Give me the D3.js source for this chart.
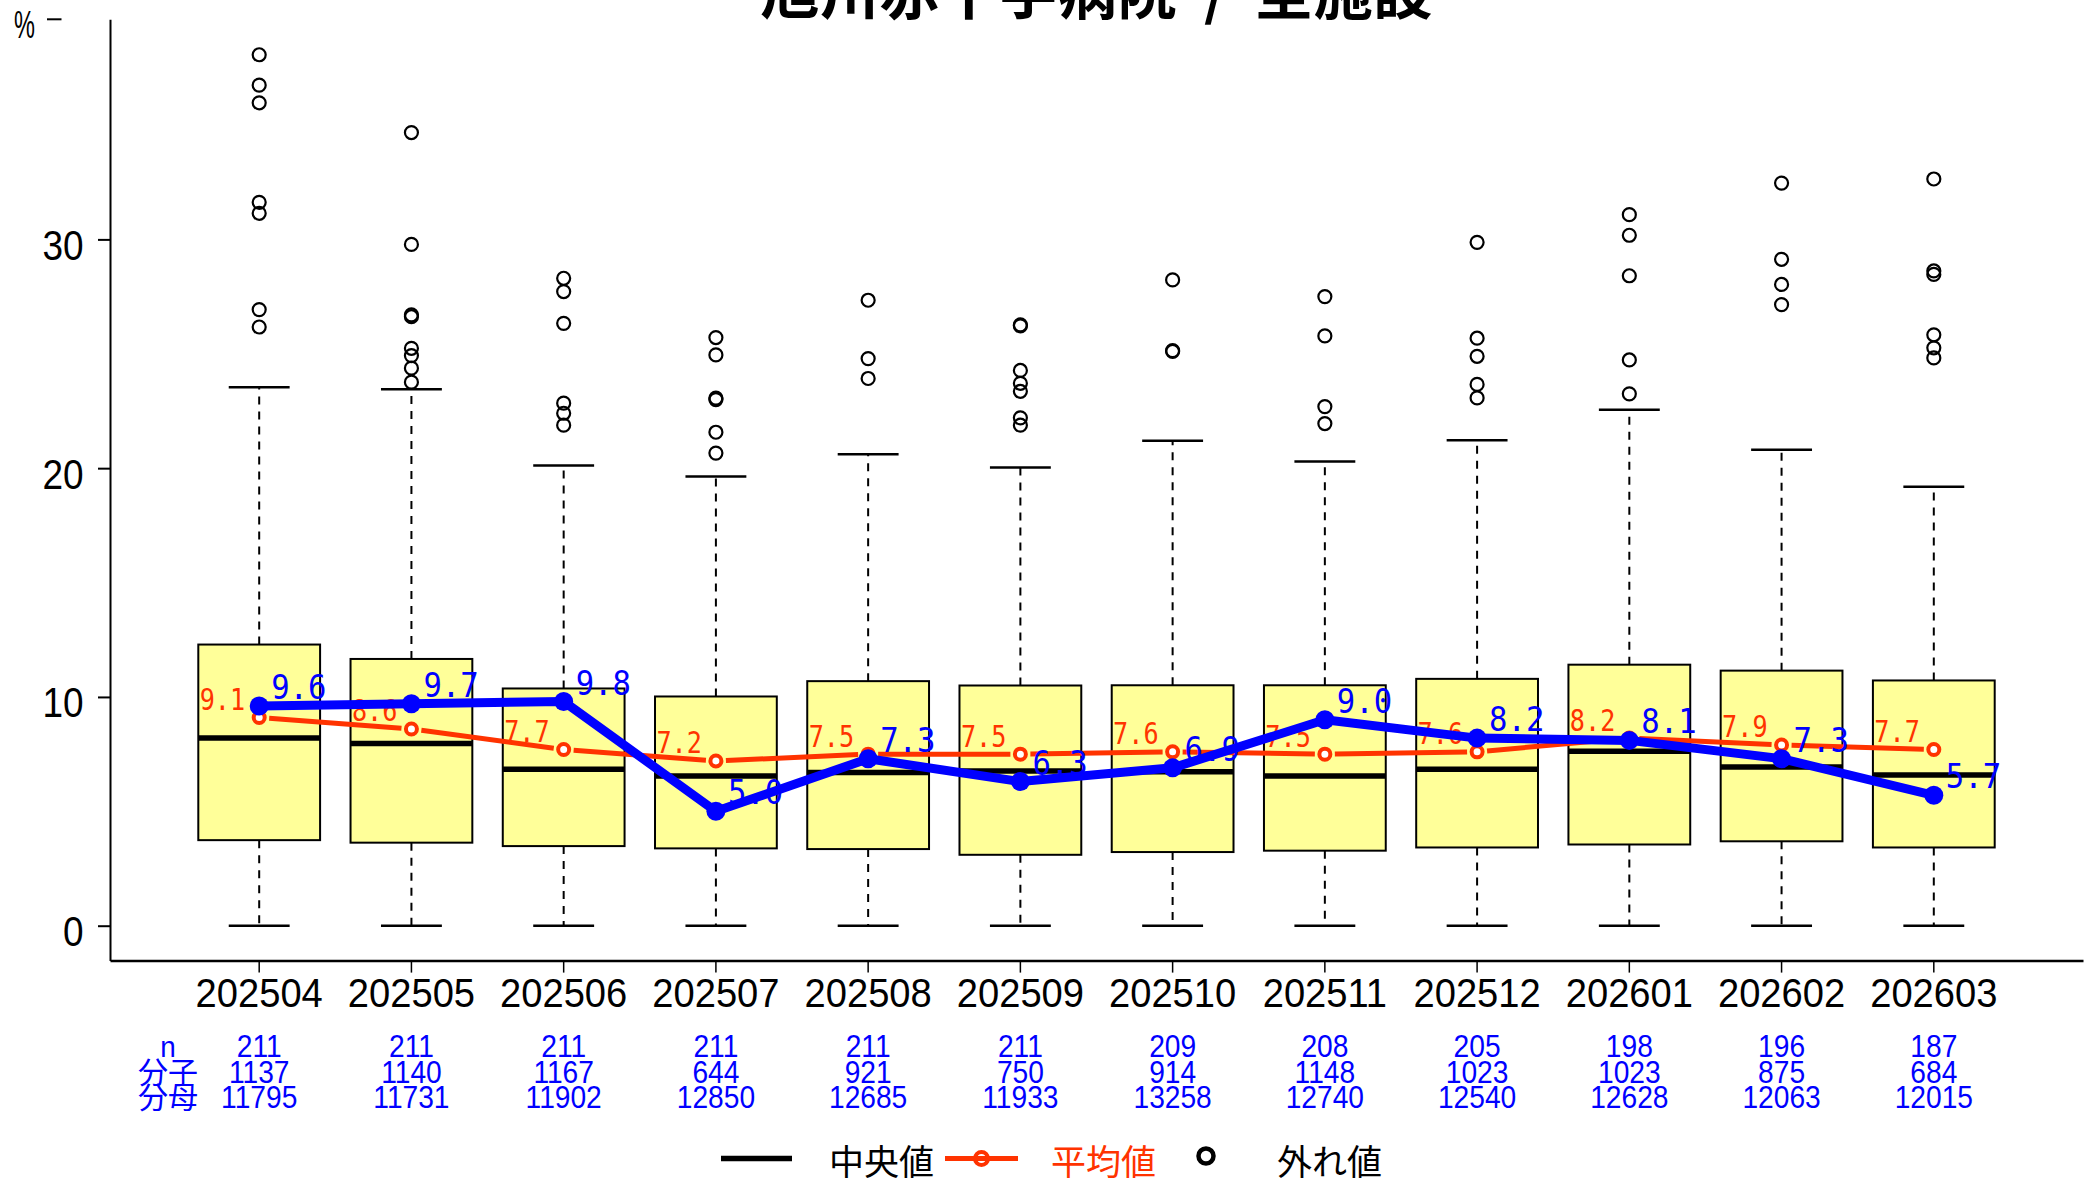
<!DOCTYPE html>
<html>
<head>
<meta charset="utf-8">
<script src="https://cdn.jsdelivr.net/npm/d3@7"></script>
<style>
  html, body { margin: 0; padding: 0; background: #ffffff; }
  svg { display: block; }
  text { white-space: pre; }
</style>
</head>
<body>
<script>
// ---- data ---------------------------------------------------------------
const months = ["202504","202505","202506","202507","202508","202509",
                "202510","202511","202512","202601","202602","202603"];

const q1Vals  = [3.74, 3.63, 3.48, 3.38, 3.35, 3.10, 3.22, 3.28, 3.42, 3.55, 3.69, 3.42];
const medVals = [8.20, 7.96, 6.84, 6.54, 6.70, 6.76, 6.73, 6.54, 6.84, 7.63, 6.94, 6.59];
const q3Vals  = [12.29, 11.66, 10.37, 10.02, 10.69, 10.50, 10.51, 10.51, 10.79, 11.41, 11.15, 10.72];
const whiskerLow  = [0, 0, 0, 0, 0, 0, 0, 0, 0, 0, 0, 0];
const whiskerHigh = [23.54, 23.45, 20.12, 19.64, 20.61, 20.03, 21.20, 20.29, 21.22, 22.55, 20.80, 19.19];

const outlierVals = [
  [38.07, 36.74, 35.97, 31.62, 31.14, 26.93, 26.17],
  [34.67, 29.78, 26.70, 26.62, 25.24, 24.92, 24.37, 23.76],
  [28.30, 27.72, 26.33, 22.84, 22.40, 21.88],
  [25.71, 24.95, 23.06, 23.00, 21.57, 20.66],
  [27.34, 24.79, 23.92],
  [26.26, 26.22, 24.27, 23.71, 23.36, 22.20, 21.88],
  [28.23, 25.14, 25.10],
  [27.50, 25.78, 22.69, 21.95],
  [29.87, 25.68, 24.89, 23.66, 23.07],
  [31.08, 30.18, 28.41, 24.73, 23.25],
  [32.46, 29.13, 28.03, 27.15],
  [32.64, 28.62, 28.47, 25.83, 25.26, 24.82]
];

// facility mean (red) and own-hospital rate (blue)
const meanVals = [9.1, 8.6, 7.7, 7.2, 7.5, 7.5, 7.6, 7.5, 7.6, 8.2, 7.9, 7.7];
const rateVals = [9.6, 9.7, 9.8, 5.0, 7.3, 6.3, 6.9, 9.0, 8.2, 8.1, 7.3, 5.7];

const nCounts      = [211, 211, 211, 211, 211, 211, 209, 208, 205, 198, 196, 187];
const numerators   = [1137, 1140, 1167, 644, 921, 750, 914, 1148, 1023, 1023, 875, 684];
const denominators = [11795, 11731, 11902, 12850, 12685, 11933, 13258, 12740, 12540, 12628, 12063, 12015];

const yTicks = [0, 10, 20, 30];
const tableLabels = ["n", "分子", "分母"];
const legendLabels = ["中央値", "平均値", "外れ値"];
const titleText = "旭川赤十字病院  /  全施設";

// ---- layout -------------------------------------------------------------
const W = 2096, H = 1180;
const plot = { left: 110, right: 2083, top: 19.3, bottom: 960.6 };
const RED = "#FF3300", BLUE = "#0000FF", BOXFILL = "#FFFF99";
const SANS = "'Liberation Sans', Arial, sans-serif";
const MONO = "'DejaVu Sans Mono', monospace";
const CJK = "'Noto Sans CJK JP', 'Noto Sans', sans-serif";

const svg = d3.select("body").append("svg")
  .attr("width", W).attr("height", H)
  .attr("viewBox", `0 0 ${W} ${H}`);

const x = d3.scaleBand()
  .domain(months)
  .range([plot.left, plot.right])
  .paddingInner(0.2)
  .paddingOuter(0.58);

const y = d3.scaleLinear()
  .domain([-1.525, 39.62])
  .range([plot.bottom, plot.top]);

const bw = x.bandwidth();
const cx = m => x(m) + bw / 2;

// narrow text helper
function ntext(parent, px, py, str, o) {
  return parent.append("text")
    .attr("transform", `translate(${px},${py}) scale(${o.sx || 1},1)`)
    .attr("font-family", o.family || SANS)
    .attr("font-size", o.size)
    .attr("font-weight", o.weight || "normal")
    .attr("text-anchor", o.anchor || "start")
    .attr("fill", o.fill || "#000")
    .text(str);
}

// ---- title --------------------------------------------------------------
svg.append("text")
  .attr("x", (plot.left + plot.right) / 2)
  .attr("y", 14)
  .attr("text-anchor", "middle")
  .attr("font-family", CJK)
  .attr("font-weight", "bold")
  .attr("font-size", 59.5)
  .text(titleText);

// ---- axes ---------------------------------------------------------------
const yAxis = svg.append("g")
  .attr("transform", `translate(${plot.left},0)`)
  .call(d3.axisLeft(y).tickValues(yTicks).tickSize(12).tickSizeOuter(0).tickFormat(d3.format("d")));
yAxis.selectAll("path.domain, line").attr("stroke", "#000").attr("stroke-width", 2);
yAxis.selectAll("text")
  .attr("font-family", SANS).attr("font-size", 42).attr("fill", "#000")
  .attr("transform", "scale(0.88,1)")
  .attr("x", -26.5 / 0.88).attr("y", 20).attr("dy", null);

// unit marker at the top of the value axis
ntext(svg, 24.5, 38, "%", { size: 38, sx: 0.62, anchor: "middle" });
svg.append("line")
  .attr("x1", 47).attr("x2", 61.5)
  .attr("y1", y.range()[1]).attr("y2", y.range()[1])
  .attr("stroke", "#000").attr("stroke-width", 2);

const xAxis = svg.append("g")
  .attr("transform", `translate(0,${plot.bottom})`)
  .call(d3.axisBottom(x).tickSize(12).tickSizeOuter(0));
xAxis.select("path.domain").attr("stroke", "#000").attr("stroke-width", 2.5);
xAxis.selectAll("line").attr("stroke", "#000").attr("stroke-width", 1.5);
xAxis.selectAll("text")
  .attr("font-family", SANS).attr("font-size", 41).attr("fill", "#000")
  .attr("transform", "scale(0.93,1)")
  .attr("y", 46).attr("dy", null);

// ---- boxplots -----------------------------------------------------------
const boxes = svg.append("g");
months.forEach((m, i) => {
  const c = cx(m);
  const g = boxes.append("g");
  // whiskers
  [[q3Vals[i], whiskerHigh[i]], [q1Vals[i], whiskerLow[i]]].forEach(([a, b]) => {
    g.append("line")
      .attr("x1", c).attr("x2", c).attr("y1", y(a)).attr("y2", y(b))
      .attr("stroke", "#000").attr("stroke-width", 2).attr("stroke-dasharray", "8,7");
    g.append("line")
      .attr("x1", c - bw / 4).attr("x2", c + bw / 4).attr("y1", y(b)).attr("y2", y(b))
      .attr("stroke", "#000").attr("stroke-width", 2.5);
  });
  // box
  g.append("rect")
    .attr("x", x(m)).attr("width", bw)
    .attr("y", y(q3Vals[i])).attr("height", y(q1Vals[i]) - y(q3Vals[i]))
    .attr("fill", BOXFILL).attr("stroke", "#000").attr("stroke-width", 2);
  // median
  g.append("line")
    .attr("x1", x(m)).attr("x2", x(m) + bw)
    .attr("y1", y(medVals[i])).attr("y2", y(medVals[i]))
    .attr("stroke", "#000").attr("stroke-width", 5.5);
  // outliers
  g.selectAll("circle.out").data(outlierVals[i]).join("circle")
    .attr("class", "out")
    .attr("cx", c).attr("cy", d => y(d)).attr("r", 6.5)
    .attr("fill", "none").attr("stroke", "#000").attr("stroke-width", 2.2);
});

// ---- mean line (red, with gaps around the points) -----------------------
const meanPts = months.map((m, i) => [cx(m), y(meanVals[i])]);
const gap = 10;
const meanG = svg.append("g");
for (let i = 0; i < meanPts.length - 1; i++) {
  const [x0, y0] = meanPts[i], [x1, y1] = meanPts[i + 1];
  const len = Math.hypot(x1 - x0, y1 - y0);
  const ux = (x1 - x0) / len, uy = (y1 - y0) / len;
  meanG.append("line")
    .attr("x1", x0 + ux * gap).attr("y1", y0 + uy * gap)
    .attr("x2", x1 - ux * gap).attr("y2", y1 - uy * gap)
    .attr("stroke", RED).attr("stroke-width", 5).attr("stroke-linecap", "butt");
}
meanG.selectAll("circle").data(meanPts).join("circle")
  .attr("cx", d => d[0]).attr("cy", d => d[1]).attr("r", 5.5)
  .attr("fill", "#fff").attr("stroke", RED).attr("stroke-width", 4);

months.forEach((m, i) => {
  ntext(svg, cx(m) - 14, y(meanVals[i]) - 7.5, meanVals[i].toFixed(1),
        { size: 30, sx: 0.84, family: MONO, anchor: "end", fill: RED });
});

// ---- hospital rate (blue) -----------------------------------------------
months.forEach((m, i) => {
  ntext(svg, cx(m) + 12, y(rateVals[i]) - 7, rateVals[i].toFixed(1),
        { size: 34, sx: 0.9, family: MONO, anchor: "start", fill: BLUE });
});

const rateLine = d3.line().x((d, i) => cx(months[i])).y(d => y(d));
svg.append("path")
  .datum(rateVals)
  .attr("d", rateLine)
  .attr("fill", "none").attr("stroke", BLUE)
  .attr("stroke-width", 9).attr("stroke-linejoin", "round");
svg.append("g").selectAll("circle").data(rateVals).join("circle")
  .attr("cx", (d, i) => cx(months[i])).attr("cy", d => y(d)).attr("r", 9.5)
  .attr("fill", BLUE);

// ---- count table under the axis -----------------------------------------
const rowBase = [1057, 1082.5, 1107.5];
const rows = [nCounts, numerators, denominators];
tableLabels.forEach((lab, r) => {
  ntext(svg, 168, rowBase[r], lab,
        { size: 30, family: r === 0 ? SANS : CJK, anchor: "middle", fill: BLUE, sx: r === 0 ? 0.93 : 1 });
});
rows.forEach((vals, r) => {
  months.forEach((m, i) => {
    ntext(svg, cx(m), rowBase[r], String(vals[i]),
          { size: 32, sx: 0.88, anchor: "middle", fill: BLUE });
  });
});

// ---- legend -------------------------------------------------------------
const leg = svg.append("g");
const ly = 1158.5;
leg.append("line").attr("x1", 721).attr("x2", 792).attr("y1", ly).attr("y2", ly)
  .attr("stroke", "#000").attr("stroke-width", 5.5);
ntext(leg, 829, 1175, legendLabels[0], { size: 35, family: CJK, fill: "#000" });

leg.append("line").attr("x1", 945).attr("x2", 1018).attr("y1", ly).attr("y2", ly)
  .attr("stroke", RED).attr("stroke-width", 5);
leg.append("circle").attr("cx", 981.5).attr("cy", ly).attr("r", 6.5)
  .attr("fill", "none").attr("stroke", RED).attr("stroke-width", 4);
ntext(leg, 1051, 1175, legendLabels[1], { size: 35, family: CJK, fill: RED });

leg.append("circle").attr("cx", 1206).attr("cy", 1156).attr("r", 7.5)
  .attr("fill", "none").attr("stroke", "#000").attr("stroke-width", 4.5);
ntext(leg, 1277, 1175, legendLabels[2], { size: 35, family: CJK, fill: "#000" });
</script>
</body>
</html>
